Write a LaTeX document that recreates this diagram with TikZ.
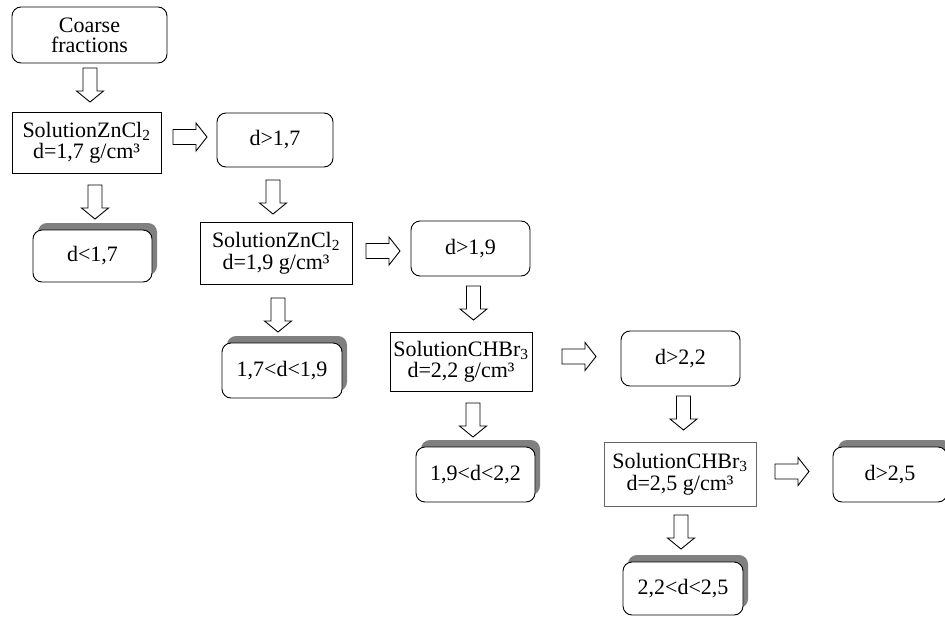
\documentclass[tikz,border=0pt]{standalone}
\usepackage{fontspec}
\setmainfont{Liberation Serif}
\usetikzlibrary{shadows}
\begin{document}
\begin{tikzpicture}[x=1pt,y=-1pt,
  every node/.style={font=\fontsize{22}{21.5}\selectfont, align=center, inner sep=0pt},
  rbox/.style={draw=black, line width=0.9pt, rounded corners=9pt, fill=white},
  sbox/.style={rbox, drop shadow={shadow xshift=5pt, shadow yshift=7pt, fill=black!50, opacity=1}},
  solbox/.style={draw=black, line width=0.9pt, fill=white},
  arrowline/.style={draw=black, line width=0.9pt, fill=white, line join=miter},
  darr/.pic={\draw[arrowline] (-7,0) -- (-7,23) -- (-13.5,23) -- (0,34) -- (13.5,23) -- (7,23) -- (7,0) -- cycle;},
  rarr/.pic={\draw[arrowline] (0,-7.5) -- (23,-7.5) -- (23,-14) -- (34,0) -- (23,14) -- (23,7.5) -- (0,7.5) -- cycle;}
]
\useasboundingbox (0,0) rectangle (945,616);
\fill[white] (0,0) rectangle (945,616);

% nodes
\node[rbox, minimum width=155pt, minimum height=56pt, font=\fontsize{22}{20}\selectfont] (coarse) at (89.5,35) {Coarse\\fractions};
\node[solbox, minimum width=149pt, minimum height=61pt] (sol1) at (86.5,142.5) {SolutionZnCl\textsubscript{2}\\d=1,7 g/cm³};
\node[rbox, minimum width=116pt, minimum height=54pt] (g17) at (275,140) {d>1,7};
\node[sbox, minimum width=119pt, minimum height=52pt] (l17) at (92.5,256) {d<1,7};
\node[solbox, minimum width=152pt, minimum height=62pt] (sol2) at (276,253) {SolutionZnCl\textsubscript{2}\\d=1,9 g/cm³};
\node[sbox, minimum width=120pt, minimum height=55pt] (m1719) at (282,370.5) {1,7<d<1,9};
\node[rbox, minimum width=119pt, minimum height=55pt] (g19) at (470.5,248.5) {d>1,9};
\node[solbox, minimum width=142pt, minimum height=59pt] (sol3) at (461,361.5) {SolutionCHBr\textsubscript{3}\\d=2,2 g/cm³};
\node[rbox, minimum width=119pt, minimum height=55pt] (g22) at (680.5,358.5) {d>2,2};
\node[sbox, minimum width=119pt, minimum height=55pt] (m1922) at (475.5,474.5) {1,9<d<2,2};
\node[solbox, draw=black!60, minimum width=152pt, minimum height=64pt] (sol4) at (680,474) {SolutionCHBr\textsubscript{3}\\d=2,5 g/cm³};
\node[sbox, minimum width=114pt, minimum height=55pt] (g25) at (890,474.5) {d>2,5};
\node[sbox, minimum width=120pt, minimum height=53pt] (m2225) at (683,588.5) {2,2<d<2,5};

% block arrows
\pic at (90,68) {darr};
\pic at (95,185) {darr};
\pic at (273,180) {darr};
\pic at (278,298) {darr};
\pic at (473.5,286) {darr};
\pic at (473,403) {darr};
\pic at (683.5,396) {darr};
\pic at (681,515) {darr};
\pic at (173,137) {rarr};
\pic at (366,251) {rarr};
\pic at (562,356.5) {rarr};
\pic at (775,471.5) {rarr};
\end{tikzpicture}
\end{document}
